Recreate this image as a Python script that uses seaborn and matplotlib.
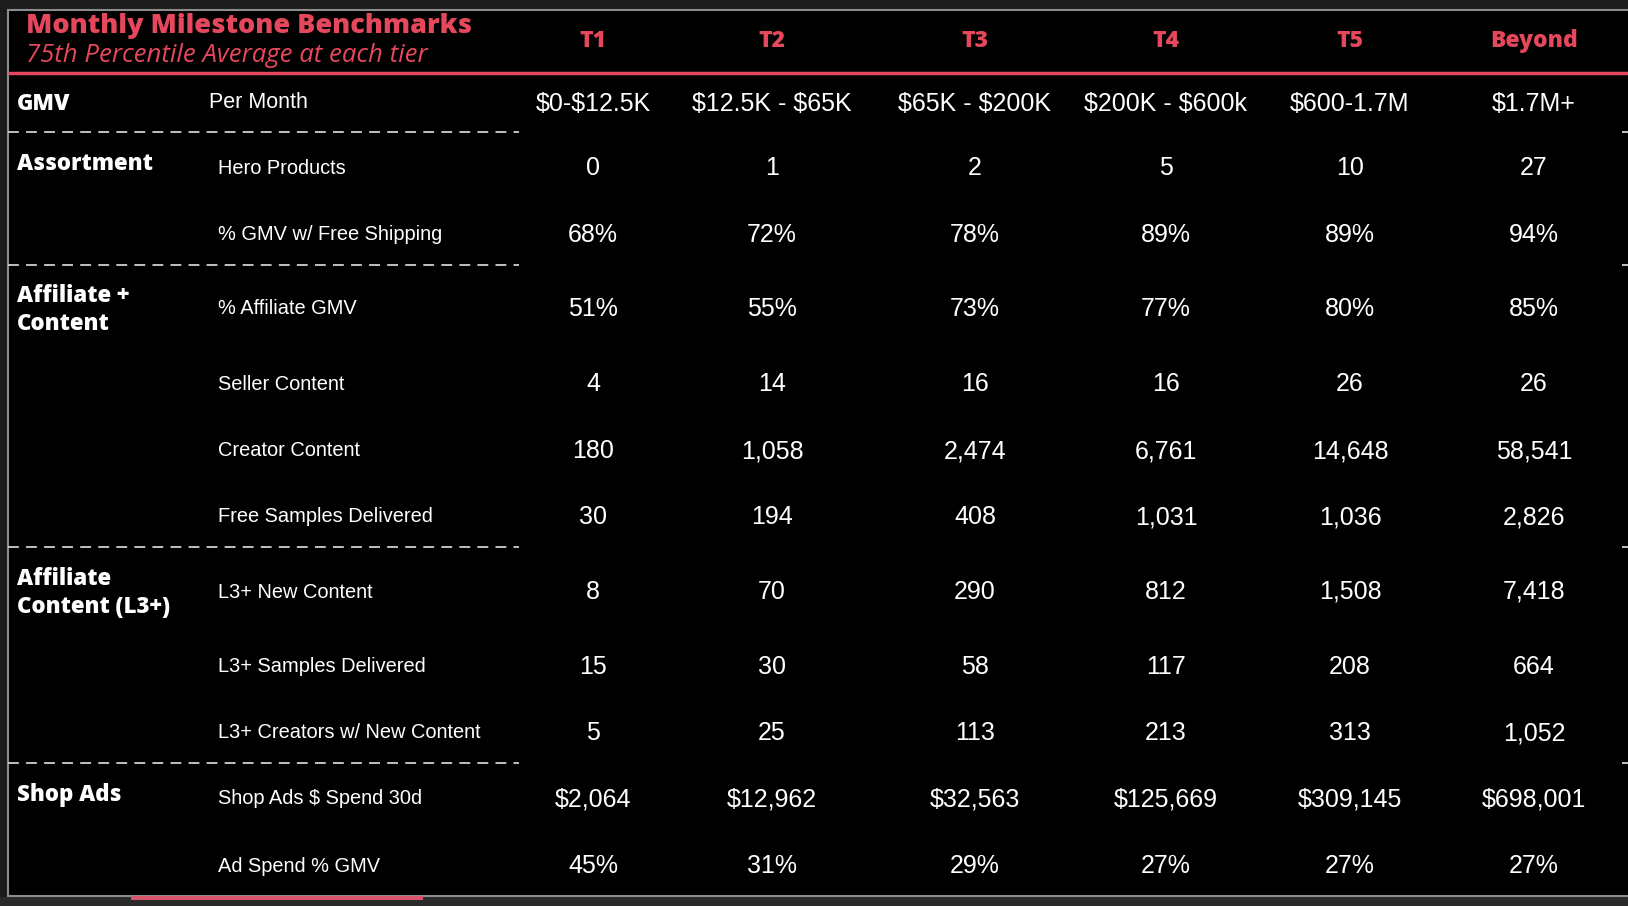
import matplotlib.pyplot as plt
import seaborn as sns
from matplotlib.patches import Rectangle

# ----- data -----
tiers = ["T1", "T2", "T3", "T4", "T5", "Beyond"]

groups = ["GMV", "Assortment", "Affiliate +\nContent", "Affiliate\nContent (L3+)", "Shop Ads"]
group_sizes = [1, 2, 4, 3, 2]

metrics = [
    "Per Month",
    "Hero Products",
    "% GMV w/ Free Shipping",
    "% Affiliate GMV",
    "Seller Content",
    "Creator Content",
    "Free Samples Delivered",
    "L3+ New Content",
    "L3+ Samples Delivered",
    "L3+ Creators w/ New Content",
    "Shop Ads $ Spend 30d",
    "Ad Spend % GMV",
]

gmv_range = ["$0-$12.5K", "$12.5K - $65K", "$65K - $200K", "$200K - $600k", "$600-1.7M", "$1.7M+"]
hero_products = [0, 1, 2, 5, 10, 27]
free_shipping_pct = [68, 72, 78, 89, 89, 94]
affiliate_gmv_pct = [51, 55, 73, 77, 80, 85]
seller_content = [4, 14, 16, 16, 26, 26]
creator_content = [180, 1058, 2474, 6761, 14648, 58541]
free_samples = [30, 194, 408, 1031, 1036, 2826]
l3_new_content = [8, 70, 290, 812, 1508, 7418]
l3_samples = [15, 30, 58, 117, 208, 664]
l3_creators = [5, 25, 113, 213, 313, 1052]
ads_spend = [2064, 12962, 32563, 125669, 309145, 698001]
ad_spend_pct = [45, 31, 29, 27, 27, 27]

def num(v):
    return [f"{x:,}" for x in v]

def pct(v):
    return [f"{x}%" for x in v]

def usd(v):
    return [f"${x:,}" for x in v]

cells = [
    gmv_range,
    num(hero_products),
    pct(free_shipping_pct),
    pct(affiliate_gmv_pct),
    num(seller_content),
    num(creator_content),
    num(free_samples),
    num(l3_new_content),
    num(l3_samples),
    num(l3_creators),
    usd(ads_spend),
    pct(ad_spend_pct),
]

# ----- layout (pixel frame) -----
W, H = 1628, 906
col_x = [593, 772, 975, 1166, 1350, 1534]
row_y = [104, 168, 235, 309, 384, 451, 517, 592, 667, 733, 799, 866]
sep_y = [132, 265, 547, 763]
RED = "#e5475c"

sns.set_theme(style="dark", rc={"axes.facecolor": "black", "figure.facecolor": "#1c1c1c"})
plt.rcParams["font.family"] = ["Liberation Sans", "DejaVu Sans"]
plt.rcParams["text.parse_math"] = False

fig = plt.figure(figsize=(W / 100, H / 100), dpi=100)
ax = fig.add_axes([0, 0, 1, 1])
ax.set_xlim(0, W)
ax.set_ylim(H, 0)
ax.axis("off")

# frame
ax.add_patch(Rectangle((0, 897), W, H - 897, facecolor="#2a2a2a", edgecolor="none"))
ax.add_patch(Rectangle((8, 10), W, 886, facecolor="black", edgecolor="#8c8c8c", lw=1.5))
ax.add_patch(Rectangle((131, 896), 292, 4, facecolor="#d9536a", edgecolor="none"))

# title block
ax.text(26, 26, "Monthly Milestone Benchmarks", color=RED, fontsize=19.5,
        fontweight="heavy", family="Open Sans", va="center", ha="left")
ax.text(26, 55, "75th Percentile Average at each tier", color=RED, fontsize=18.5,
        style="italic", family="Open Sans", va="center", ha="left")
for x, t in zip(col_x, tiers):
    ax.text(x, 41, t, color=RED, fontsize=16.5, fontweight="heavy", family="Open Sans",
            va="center", ha="center")
ax.hlines(73, 8, W, color=RED, lw=2.5)

# separators
ax.hlines(sep_y, 8, 519, color="#d0d0d0", lw=1.3, linestyles=(0, (6, 4)))
ax.hlines(sep_y, 1622, W, color="#d0d0d0", lw=1.3)

# group labels
start = 0
for g, n in zip(groups, group_sizes):
    dy = 1 if "\n" in g else (0 if start == 0 else -4)
    ax.text(17, row_y[start] + dy, g, color="white", fontsize=16, fontweight="heavy",
            family="Open Sans", va="center", ha="left", linespacing=1.2)
    start += n

# metric labels and values
for i, (m, row) in enumerate(zip(metrics, cells)):
    mx = 209 if i == 0 else 218
    fs = 15.5 if i == 0 else 14.4
    ax.text(mx, row_y[i] - 2 if i == 0 else row_y[i], m, color="white", fontsize=fs,
            va="center", ha="left")
    for x, v in zip(col_x, row):
        ax.text(x, row_y[i], v, color="white", fontsize=18, va="center", ha="center")

fig.savefig("out.png", dpi=100, facecolor=fig.get_facecolor())
